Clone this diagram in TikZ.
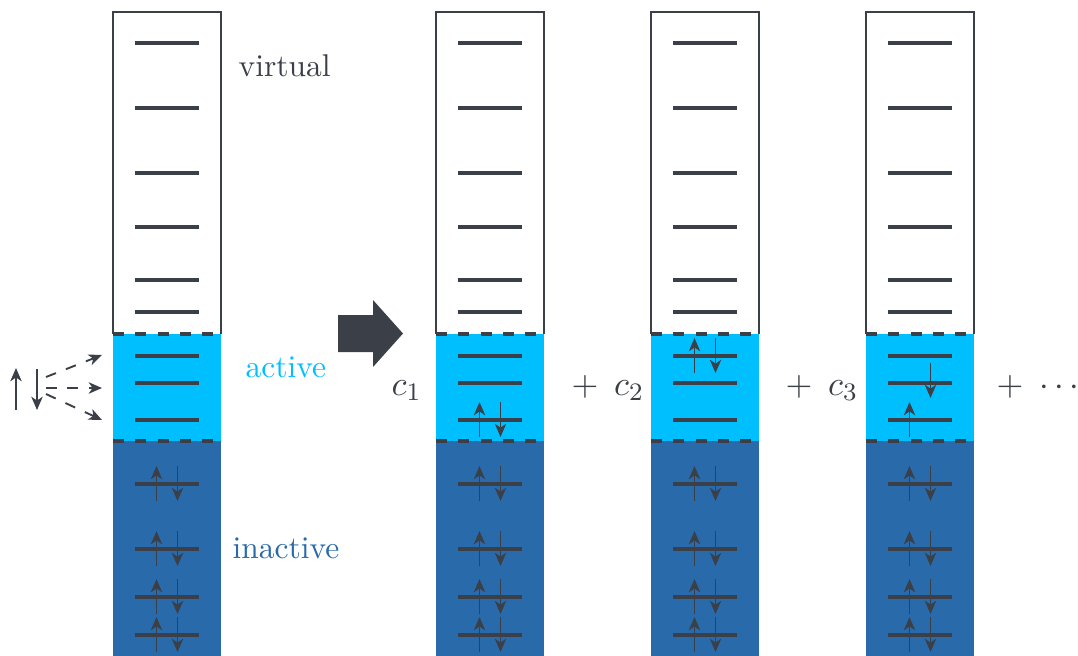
\documentclass[tikz,border=0pt]{standalone}
\usetikzlibrary{arrows.meta}
\definecolor{ink}{RGB}{59,64,72}
\definecolor{actcol}{RGB}{0,191,255}
\definecolor{inacol}{RGB}{41,106,171}
\tikzset{
  lvl/.style={draw=ink, line width=1pt},
  elec/.style={draw=ink, line width=0.6pt, -{Stealth[length=4.2pt,width=3.6pt,inset=1.2pt]}},
  bnd/.style={draw=ink, line width=1pt, dash pattern=on 3.5pt off 3.6pt},
  frame/.style={draw=ink, line width=0.6pt},
  lbl/.style={anchor=base west, inner sep=0pt},
  mlbl/.style={anchor=base west, inner sep=0pt, font=\fontsize{11}{13}\selectfont},
  fan/.style={draw=ink, line width=0.6pt, dash pattern=on 3.4pt off 3.4pt, -{Stealth[length=4.2pt,width=3.6pt,inset=1.2pt]}},
}
\begin{document}
\begin{tikzpicture}[x=0.3175pt,y=-0.3175pt]
\useasboundingbox (0,0) rectangle (1078,655);
\clip (0,0) rectangle (1078,655);
% columns
\foreach \cx in {113,436,651,866} {
  \fill[inacol] (\cx,441) rectangle ({\cx+108},670);
  \fill[actcol] (\cx,334) rectangle ({\cx+108},441);
  \draw[frame] (\cx,334) -- (\cx,12) -- ({\cx+108},12) -- ({\cx+108},334);
  \foreach \y in {43,108,173,227,280,312,356,383,420,484,549,597,635}
    \draw[lvl] ({\cx+21.5},\y) -- ++(64.5,0);
  \draw[bnd] (\cx,334) -- ++(108,0);
  \draw[bnd] (\cx,441) -- ++(108,0);
  \foreach \y in {484,549,597,635} {
    \draw[elec] ({\cx+43.5},{\y+17}) -- ++(0,-35);
    \draw[elec] ({\cx+64.5},{\y-18}) -- ++(0,35);
  }
}
% active electrons
\draw[elec] (479.5,437) -- ++(0,-35);
\draw[elec] (500.5,402) -- ++(0,35);
\draw[elec] (694.5,373) -- ++(0,-35);
\draw[elec] (715.5,338) -- ++(0,35);
\draw[elec] (909.5,437) -- ++(0,-35);
\draw[elec] (930.5,363) -- ++(0,35);
% labels
\node[lbl, text=ink] (virt) at (238,76) {virtual};
\node[lbl, text=actcol] (act) at (245,377) {active};
\node[lbl, text=inacol] (inact) at (232,558) {inactive};
\node[mlbl, text=ink] (c1) at (391,395) {$c_1$};
\node[mlbl, text=ink] (c2) at (571,395) {$+$\hspace{5pt}$c_2$};
\node[mlbl, text=ink] (c3) at (785,395) {$+$\hspace{5pt}$c_3$};
\node[mlbl, text=ink] (cdots) at (996,395) {$+$\hspace{5pt}$\cdots$};
% big arrow
\fill[ink] (338,315) -- (373,315) -- (373,300) -- (403,333.5) -- (373,367) -- (373,352) -- (338,352) -- cycle;
% left electrons
\coordinate (ua) at (16,410); \coordinate (ub) at (16,368);
\coordinate (da) at (37,369); \coordinate (db) at (37,410);
\draw[elec] (ua) -- (ub);
\draw[elec] (da) -- (db);
\coordinate (s1) at (46,377); \coordinate (t1) at (102,355);
\coordinate (s2) at (46,388); \coordinate (t2) at (102,388);
\coordinate (s3) at (46,394); \coordinate (t3) at (102,420);
\draw[fan] (s1) -- (t1);
\draw[fan] (s2) -- (t2);
\draw[fan] (s3) -- (t3);
\end{tikzpicture}
\end{document}
